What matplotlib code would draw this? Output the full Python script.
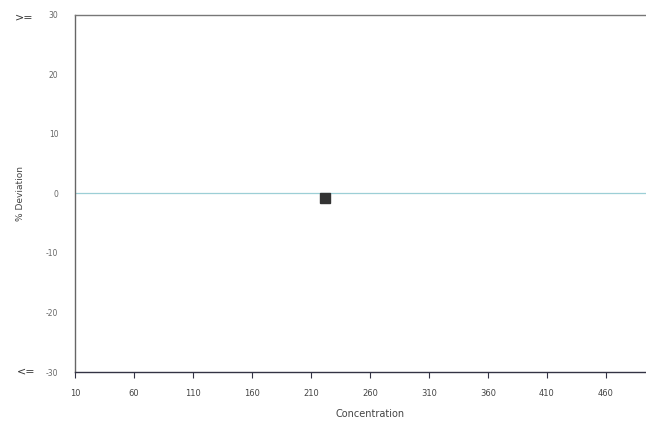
import matplotlib.pyplot as plt

plt.rcParams['axes.unicode_minus'] = False

x_ticks = [10, 60, 110, 160, 210, 260, 310, 360, 410, 460]
y_ticks = [30, 20, 10, 0, -10, -20, -30]
conc = [222]
deviation = [-0.7]

fig = plt.figure(figsize=(6.46, 4.29), dpi=100)
# axes run past the right edge, like the cropped scan
ax = fig.add_axes([75 / 646, 1 - 372 / 429, 590 / 646, 357 / 429])
ax.set_xlim(10, 510)
ax.set_ylim(-30, 30)

ax.axhline(0, color='#9ccfd6', lw=0.9, zorder=1)
ax.plot(conc, deviation, 's', color='#333333', ms=7, zorder=3)

ax.set_xticks(x_ticks)
ax.set_yticks(y_ticks)
ax.tick_params(axis='x', length=4, width=0.8, color='#333344', labelsize=6,
               labelcolor='#444444', pad=8)
ax.tick_params(axis='y', length=0, labelsize=5.5, labelcolor='#666666', pad=12)

ax.spines['right'].set_visible(False)
ax.spines['top'].set_color('#777777')
ax.spines['left'].set_color('#666666')
ax.spines['bottom'].set_color('#333344')
for s in ['top', 'left', 'bottom']:
    ax.spines[s].set_linewidth(1.0)

ax.set_xlabel('Concentration', fontsize=7, color='#444444', labelpad=8)
ax.set_ylabel('% Deviation', fontsize=6.5, color='#444444', labelpad=15)

fig.text(15 / 646, 1 - 17 / 429, '>=', fontsize=8, color='#333333', va='center')
fig.text(17 / 646, 1 - 371 / 429, '<=', fontsize=8, color='#333333', va='center')

fig.savefig('out.png', dpi=100)
